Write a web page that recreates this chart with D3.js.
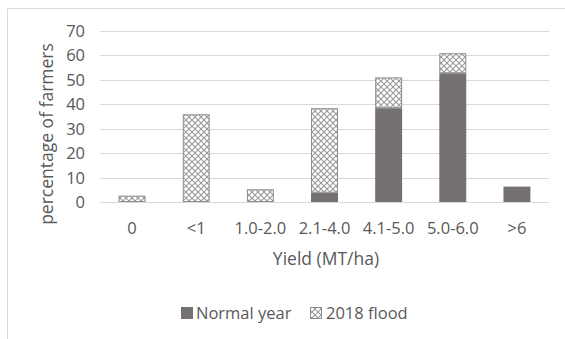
<!DOCTYPE html>
<html>
<head>
<meta charset="utf-8">
<script src="https://cdn.jsdelivr.net/npm/d3@7"></script>
<style>
  body { margin: 0; background: #fff; }
  svg { font-family: "Open Sans", sans-serif; }
</style>
</head>
<body>
<svg id="chart" width="565" height="339"></svg>
<script>
const categories = ["0", "<1", "1.0-2.0", "2.1-4.0", "4.1-5.0", "5.0-6.0", ">6"];
const normalYear = [0, 0, 0, 3.8, 38.4, 52.7, 6.3];
const flood2018 = [2.6, 35.9, 5.2, 34.6, 12.6, 8.2, 0];
const yTicks = [0, 10, 20, 30, 40, 50, 60, 70];

const svg = d3.select("#chart");
const textColor = "#595959";

// outer chart border (only top and left visible in the crop)
svg.append("path")
  .attr("d", "M7.5,339 L7.5,8.5 L565,8.5")
  .attr("fill", "none")
  .attr("stroke", "#d9d9d9");

// crosshatch pattern for the flood series
const pat = svg.append("defs").append("pattern")
  .attr("id", "hatch")
  .attr("width", 6)
  .attr("height", 6)
  .attr("patternUnits", "userSpaceOnUse");
pat.append("rect").attr("width", 6).attr("height", 6).attr("fill", "#fff");
pat.append("path")
  .attr("d", "M0,0 L6,6 M6,0 L0,6")
  .attr("stroke", "#999")
  .attr("stroke-width", 1.1);

const x = d3.scaleBand().domain(categories).range([100, 549]).paddingInner(0.58).paddingOuter(0.29);
const y = d3.scaleLinear().domain([0, 70]).range([202, 31]);

// gridlines
svg.append("g")
  .selectAll("line")
  .data(yTicks)
  .enter()
  .append("line")
  .attr("x1", 100)
  .attr("x2", 549)
  .attr("y1", (d) => Math.round(y(d)) + 0.5)
  .attr("y2", (d) => Math.round(y(d)) + 0.5)
  .attr("stroke", "#d9d9d9")
  .attr("stroke-width", 1);

// y tick labels
svg.append("g")
  .selectAll("text")
  .data(yTicks)
  .enter()
  .append("text")
  .attr("x", 85)
  .attr("y", (d) => y(d) + 6)
  .attr("text-anchor", "end")
  .attr("font-size", 16.5)
  .attr("fill", textColor)
  .text((d) => d);

const rows = categories.map((c, i) => ({ cat: c, normal: normalYear[i], flood: flood2018[i] }));

// normal year bars
svg.append("g")
  .selectAll("rect")
  .data(rows.filter((d) => d.normal > 0))
  .enter()
  .append("rect")
  .attr("x", (d) => x(d.cat))
  .attr("width", x.bandwidth())
  .attr("y", (d) => y(d.normal))
  .attr("height", (d) => y(0) - y(d.normal))
  .attr("fill", "#767171");

// 2018 flood bars stacked on top
svg.append("g")
  .selectAll("rect")
  .data(rows.filter((d) => d.flood > 0))
  .enter()
  .append("rect")
  .attr("x", (d) => x(d.cat) + 0.5)
  .attr("width", x.bandwidth() - 1)
  .attr("y", (d) => y(d.normal + d.flood) + 0.5)
  .attr("height", (d) => y(d.normal) - y(d.normal + d.flood) - 1)
  .attr("fill", "url(#hatch)")
  .attr("stroke", "#8c8c8c")
  .attr("stroke-width", 1);

// category labels
svg.append("g")
  .selectAll("text")
  .data(categories)
  .enter()
  .append("text")
  .attr("x", (d) => x(d) + x.bandwidth() / 2)
  .attr("y", 234)
  .attr("text-anchor", "middle")
  .attr("font-size", 16.5)
  .attr("fill", textColor)
  .text((d) => d);

// axis titles
svg.append("text")
  .attr("x", 326)
  .attr("y", 265)
  .attr("text-anchor", "middle")
  .attr("font-size", 17.5)
  .attr("fill", textColor)
  .text("Yield (MT/ha)");

svg.append("text")
  .attr("transform", "translate(53,134) rotate(-90)")
  .attr("text-anchor", "middle")
  .attr("font-size", 17.5)
  .attr("fill", textColor)
  .text("percentage of farmers");

// legend
const legend = svg.append("g");
legend.append("rect")
  .attr("x", 181).attr("y", 307).attr("width", 12).attr("height", 12)
  .attr("fill", "#767171");
legend.append("text")
  .attr("x", 196).attr("y", 319)
  .attr("font-size", 16.5).attr("fill", textColor)
  .text("Normal year");
legend.append("rect")
  .attr("x", 310.5).attr("y", 307.5).attr("width", 11).attr("height", 11)
  .attr("fill", "url(#hatch)").attr("stroke", "#8c8c8c");
legend.append("text")
  .attr("x", 326).attr("y", 319)
  .attr("font-size", 16.5).attr("fill", textColor)
  .text("2018 flood");
</script>
</body>
</html>
